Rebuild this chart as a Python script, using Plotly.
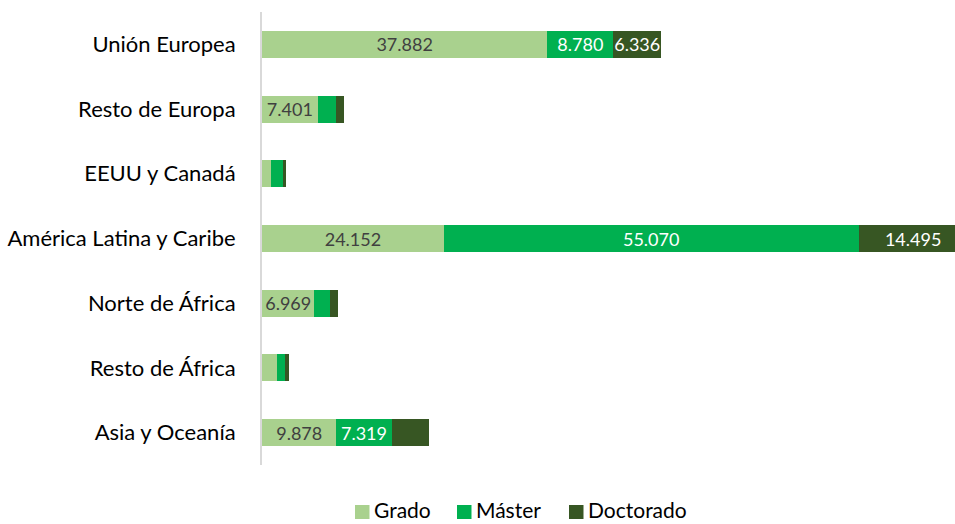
import plotly.graph_objects as go

regions = ["Unión Europea", "Resto de Europa", "EEUU y Canadá", "América Latina y Caribe",
           "Norte de África", "Resto de África", "Asia y Oceanía"]
grado = [37882, 7401, 1220, 24152, 6969, 1930, 9878]
master = [8780, 2390, 1580, 55070, 2070, 1170, 7319]
doctorado = [6336, 1120, 360, 14495, 990, 540, 4930]
series_names = ["Grado", "Máster", "Doctorado"]

# which data labels are visible (small segments carry no label)
show_grado = [True, True, False, True, True, False, True]
show_master = [True, False, False, True, False, False, True]
show_doct = [True, False, False, True, False, False, False]

x_max = 92030

def fmt(v):
    return f"{v:,}".replace(",", ".")

def labels(vals, show):
    return [fmt(v) if s else "" for v, s in zip(vals, show)]

FONT = "Lato"
colors = ["#a9d18e", "#00b050", "#375623"]
text_colors = ["#404040", "#ffffff", "#ffffff"]
values = [grado, master, doctorado]
shows = [show_grado, show_master, show_doct]

fig = go.Figure()
for name, vals, show, color, tcolor in zip(series_names, values, shows, colors, text_colors):
    fig.add_trace(go.Bar(
        y=regions, x=vals, name=name, orientation="h",
        marker=dict(color=color, line=dict(width=0)),
        text=labels(vals, show), textposition="inside", insidetextanchor="middle",
        textfont=dict(family=FONT, size=18, color=tcolor),
        textangle=0, constraintext="none", cliponaxis=True,
        hoverinfo="x+y", showlegend=False,
    ))

# legend drawn below the plot (compact Excel-style spacing), in pixel terms of the page
PLOT_L, PLOT_R, PLOT_T, PLOT_B = 262, 955, 12, 465
def px_x(p):
    return (p - PLOT_L) / (PLOT_R - PLOT_L)
def px_y(p):
    return (PLOT_B - p) / (PLOT_B - PLOT_T)

legend_sq_left = [355, 457, 569]
for name, color, left in zip(series_names, colors, legend_sq_left):
    fig.add_shape(type="rect", xref="paper", yref="paper",
                  x0=px_x(left), x1=px_x(left + 14.5), y0=px_y(519), y1=px_y(505),
                  fillcolor=color, line=dict(width=0))
    fig.add_annotation(text=name, xref="paper", yref="paper",
                       x=px_x(left + 16.5), y=px_y(523.5), xanchor="left", yanchor="bottom",
                       showarrow=False, font=dict(family=FONT, size=21, color="#000000"))

fig.update_layout(
    barmode="stack",
    bargap=0.583,
    width=955, height=524,
    margin=dict(l=262, r=0, t=12, b=59),
    paper_bgcolor="white", plot_bgcolor="white",
    font=dict(family=FONT, size=21, color="#000000"),
    showlegend=False,
    xaxis=dict(range=[0, x_max], visible=False, showgrid=False, zeroline=False),
    yaxis=dict(autorange="reversed", showline=True, linecolor="#d9d9d9", linewidth=2,
               ticks="", showgrid=False, zeroline=False,
               tickfont=dict(family=FONT, size=22, color="#000000"),
               ticklabelstandoff=20),
)

fig.write_html("out.html", config={"displayModeBar": False},
               post_script="document.body.style.margin='0';")
